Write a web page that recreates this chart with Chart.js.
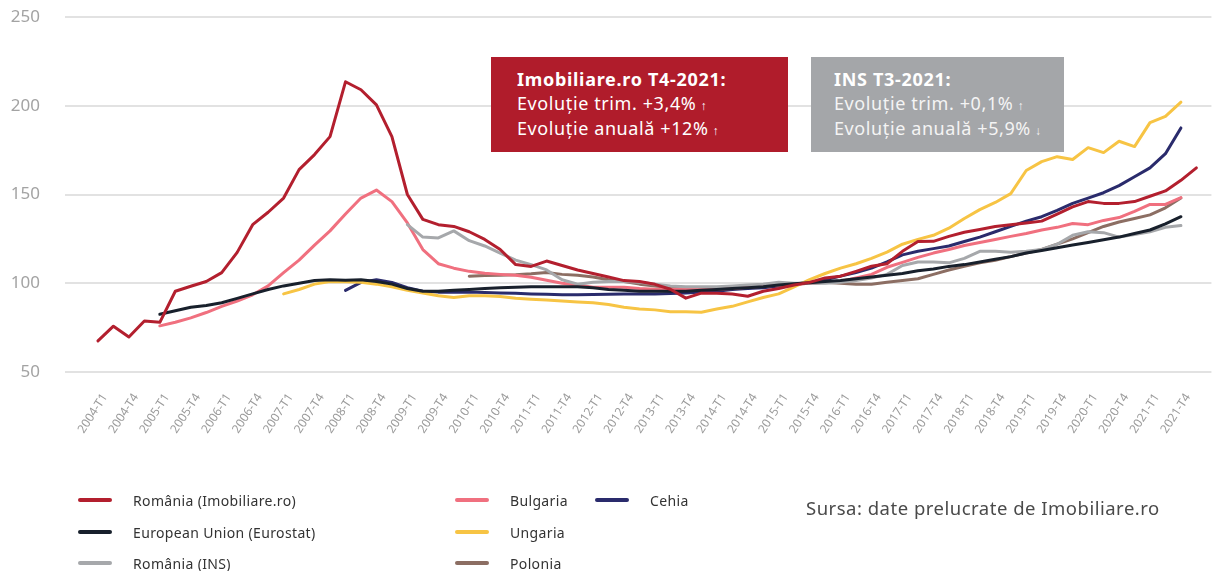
<!DOCTYPE html>
<html lang="ro">
<head>
<meta charset="utf-8">
<title>Evoluția prețurilor locuințelor</title>
<script src="https://cdn.jsdelivr.net/npm/chart.js@4.4.1/dist/chart.umd.min.js"></script>
<style>
  html, body { margin: 0; padding: 0; background: #fff; }
  body { width: 1212px; height: 571px; position: relative; overflow: hidden; font-family: "Noto Sans", sans-serif; }
  #chart-wrap { position: absolute; left: 0; top: 0; width: 1212px; height: 470px; }
  .box { position: absolute; top: 57px; height: 95px; box-sizing: border-box; padding-top: 11px; color: #fff; font-size: 18px; letter-spacing: 0.6px; line-height: 23.5px; white-space: nowrap; }
  .box b { font-weight: 700; letter-spacing: 0.7px; }
  .box .arr { font-size: 12px; margin-left: 4px; }
  .box-red { left: 491px; width: 297px; padding-left: 26px; background: #b01c2b; }
  .box-gray { left: 811px; width: 253px; padding-left: 23px; background: #a4a6a9; color: #f4f4f4; }
  .box-gray b { color: #fff; }
  #legend { position: absolute; left: 0; top: 0; width: 1212px; height: 571px; pointer-events: none; }
  #legend .item { position: absolute; height: 20px; display: flex; align-items: center; }
  #legend .swatch { display: inline-block; width: 34px; height: 4px; border-radius: 2px; margin-right: 21px; }
  #legend .label { font-size: 14px; letter-spacing: 0.35px; color: #333; white-space: nowrap; }
  #source { position: absolute; left: 806px; top: 495px; font-size: 18.5px; letter-spacing: 0.5px; color: #4a4a4a; white-space: nowrap; }
</style>
</head>
<body>
<div id="chart-wrap"><canvas id="chart"></canvas></div>

<div class="box box-red">
  <b>Imobiliare.ro T4-2021:</b><br>
  Evoluție trim. +3,4%<span class="arr">↑</span><br>
  Evoluție anuală +12%<span class="arr">↑</span>
</div>
<div class="box box-gray">
  <b>INS T3-2021:</b><br>
  Evoluție trim. +0,1%<span class="arr">↑</span><br>
  Evoluție anuală +5,9%<span class="arr">↓</span>
</div>

<div id="legend"></div>
<div id="source">Sursa: date prelucrate de Imobiliare.ro</div>

<script>
// one value per quarter, 2004-T1 ... 2021-T4 (72 quarters)
const tickLabels = [
  '2004-T1', '2004-T4', '2005-T1', '2005-T4', '2006-T1', '2006-T4',
  '2007-T1', '2007-T4', '2008-T1', '2008-T4', '2009-T1', '2009-T4',
  '2010-T1', '2010-T4', '2011-T1', '2011-T4', '2012-T1', '2012-T4',
  '2013-T1', '2013-T4', '2014-T1', '2014-T4', '2015-T1', '2015-T4',
  '2016-T1', '2016-T4', '2017-T1', '2017-T4', '2018-T1', '2018-T4',
  '2019-T1', '2019-T4', '2020-T1', '2020-T4', '2021-T1', '2021-T4'
]

const romaniaImobiliare = [
  67.5, 75.8, 69.7, 78.7, 78, 95.5, 98.3, 101, 106, 117.4, 133, 140,
  148, 164, 172.5, 182.6, 213.5, 209, 200.5, 182.6, 150, 136, 133, 132,
  129, 124.7, 119, 110.5, 109.5, 112.5, 110, 107.5, 105.5, 103.5, 101.5, 101,
  99.4, 96.6, 91.6, 94.4, 94.4, 94, 92.7, 95.5, 97, 99, 100.5, 103,
  104, 106.7, 109.6, 111, 118, 123.5, 123.6, 126.4, 128.7, 130.3, 132, 133,
  134, 135, 139, 143, 146, 145, 145, 146, 149, 152, 158, 165
]

const europeanUnion = [
  null, null, null, null, 82.5, 84.5, 86.5, 87.5, 89, 91.5, 94, 96.5,
  98.5, 100, 101.5, 102, 101.7, 102, 101, 99.5, 97, 95.5, 95.5, 96,
  96.5, 97, 97.5, 97.8, 98, 98, 98, 98, 97.5, 96.5, 96, 95.5,
  95.5, 95.5, 95.5, 96, 96.5, 97, 97.5, 98, 99, 99.7, 100.3, 101,
  101.5, 102.5, 103.5, 104.5, 105.5, 107, 108, 109.5, 110.5, 112, 113.5, 115,
  117, 118.5, 120, 121.5, 123, 124.5, 126, 128, 130, 133.5, 137.5, null
]

const romaniaINS = [
  null, null, null, null, null, null, null, null, null, null, null, null,
  null, null, null, null, null, null, null, null, 133, 126, 125.5, 129.5,
  124, 121, 117, 113, 110.5, 107.5, 102, 99.5, 100.5, 101, 101, 100.5,
  99.5, 98.5, 98, 98, 98, 98.5, 99, 99.5, 100.5, 100, 100, 100,
  100.5, 101.5, 103, 105, 110, 112, 112, 111.5, 114, 118, 118, 117.5,
  118, 119, 122, 127, 129, 128.5, 126, 127.5, 129, 131.5, 132.5, null
]

const bulgaria = [
  null, null, null, null, 76, 78, 80.5, 83.5, 87, 90, 93.5, 98.5,
  106, 113, 121.5, 129.5, 139, 148, 152.5, 146, 134, 119, 111, 108.5,
  106.7, 105.6, 105, 104.5, 103.4, 101.7, 100, 99, 97.8, 97.8, 97.8, 97,
  96.6, 96.6, 96.6, 96.6, 96.6, 97, 97.8, 98.3, 99, 99.4, 100, 100.5,
  101, 103, 105, 109, 111.8, 114.6, 117, 119, 121.3, 123, 124.7, 126.4,
  128, 130, 131.5, 133.7, 133, 135.4, 137, 140.5, 144.4, 144.4, 148.3, null
]

const ungaria = [
  null, null, null, null, null, null, null, null, null, null, null, null,
  94, 96.5, 99.5, 101, 100.8, 100.5, 99.5, 98, 96, 94.5, 93, 92,
  93, 93, 92.5, 91.5, 91, 90.5, 90, 89.5, 89, 88, 86.5, 85.5,
  85, 84, 84, 83.7, 85.5, 87, 89.5, 92, 94, 98, 102, 105.5,
  108.5, 111, 114, 117.5, 122, 124.7, 127, 131, 136.5, 141.5, 145.5, 150.5,
  163.5, 168.5, 171.3, 169.7, 176.4, 173.6, 180, 177, 190.5, 194, 202, null
]

const polonia = [
  null, null, null, null, null, null, null, null, null, null, null, null,
  null, null, null, null, null, null, null, null, null, null, null, null,
  104, 104.3, 104.5, 104.8, 105.3, 106, 105, 104.5, 103.5, 102, 101, 99.5,
  98.5, 97.5, 97, 97, 97, 97.5, 98, 98.5, 99, 99.5, 100, 100.5,
  100, 99.5, 99.5, 100.5, 101.5, 102.5, 105, 107.5, 109.5, 111.5, 113, 115,
  117, 119, 122, 125, 128.5, 132, 134.5, 136.5, 138.5, 142.5, 148, null
]

const cehia = [
  null, null, null, null, null, null, null, null, null, null, null, null,
  null, null, null, null, 96, 100.5, 102, 100.5, 97.5, 95.5, 95, 95,
  95, 94.8, 94.5, 94.3, 94, 93.8, 93.5, 93.5, 93.6, 93.8, 94, 94,
  94, 94.2, 94.5, 95, 95.5, 96.5, 97, 97.5, 98.5, 99.5, 100.5, 102,
  104, 106, 108.5, 112, 116, 118, 119.5, 121, 123.5, 126, 129, 132,
  135, 137.5, 141, 145, 148, 151, 155, 160, 165, 173, 187.5, null
]

// legend grid: [column, row] for each dataset, in dataset order
const legendCols = [78, 455, 595]
const legendRows = [490, 522, 553]
const legendSlots = [[0, 0], [0, 1], [0, 2], [1, 0], [1, 1], [1, 2], [2, 0]]

const toPoints = values => values.map((v, i) => ({ x: i, y: v }))

const series = [
  { label: 'România (Imobiliare.ro)', values: romaniaImobiliare, color: '#b31f2e' },
  { label: 'European Union (Eurostat)', values: europeanUnion, color: '#18202c' },
  { label: 'România (INS)', values: romaniaINS, color: '#a6a8ab' },
  { label: 'Bulgaria', values: bulgaria, color: '#f0707f' },
  { label: 'Ungaria', values: ungaria, color: '#f7c444' },
  { label: 'Polonia', values: polonia, color: '#8c6e63' },
  { label: 'Cehia', values: cehia, color: '#2a2b6c' }
]

const htmlLegend = {
  id: 'htmlLegend',
  afterUpdate(chart) {
    const box = document.getElementById('legend')
    box.innerHTML = ''
    chart.data.datasets.forEach((ds, i) => {
      const [col, row] = legendSlots[i]
      const item = document.createElement('div')
      item.className = 'item'
      item.style.left = legendCols[col] + 'px'
      item.style.top = legendRows[row] + 'px'
      item.innerHTML = `<span class="swatch" style="background:${ds.borderColor}"></span><span class="label">${ds.label}</span>`
      box.appendChild(item)
    })
  }
}

new Chart(document.getElementById('chart'), {
  type: 'line',
  data: {
    datasets: series.map(s => ({
      label: s.label,
      data: toPoints(s.values),
      borderColor: s.color,
      backgroundColor: s.color,
      borderWidth: 3,
      pointRadius: 0,
      tension: 0,
      borderJoinStyle: 'round',
      borderCapStyle: 'round'
    }))
  },
  options: {
    responsive: true,
    maintainAspectRatio: false,
    animation: false,
    layout: { padding: { top: 17, right: 0, bottom: 0, left: 0 } },
    plugins: {
      legend: { display: false },
      tooltip: { enabled: false }
    },
    scales: {
      x: {
        type: 'linear',
        min: -2.13,
        max: 71.97,
        grid: { display: false, drawTicks: false },
        border: { display: false },
        afterBuildTicks: scale => {
          scale.ticks = tickLabels.map((_, k) => ({ value: k * 2 }))
        },
        afterFit: scale => { scale.height = 98 },
        ticks: {
          autoSkip: false,
          maxRotation: 57,
          minRotation: 57,
          padding: 19,
          labelOffset: 7,
          color: '#9b9b9b',
          font: { family: 'Noto Sans', size: 12 },
          callback: (value, index) => tickLabels[index]
        }
      },
      y: {
        min: 50,
        max: 250,
        // tick marks kept invisible; their length sets the label gap
        grid: { color: '#e2e2e2', lineWidth: 2, drawTicks: true, tickLength: 25, tickColor: 'rgba(0,0,0,0)' },
        border: { display: false },
        afterFit: scale => { scale.width = 65 },
        ticks: {
          stepSize: 50,
          padding: 0,
          color: '#a3a3a3',
          font: { family: 'Noto Sans', size: 17 }
        }
      }
    }
  },
  plugins: [htmlLegend]
})
</script>
</body>
</html>
